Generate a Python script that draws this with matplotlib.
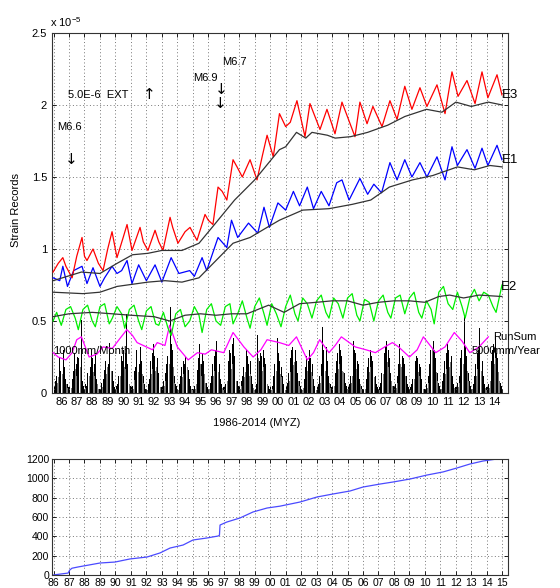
import numpy as np
import matplotlib
matplotlib.use("Agg")
from matplotlib import pyplot as plt
from matplotlib.ticker import FixedLocator, FixedFormatter, NullFormatter

plt.rcParams['font.family'] = ['Liberation Sans', 'DejaVu Sans']
plt.rcParams['font.size'] = 8
plt.rcParams['mathtext.default'] = 'regular'

# ---- data (strain in units of 1e-5, time in decimal years) ----
e3_t = [1985.97, 1986.3, 1986.6, 1986.8, 1987.2, 1987.5, 1987.84, 1988.0, 1988.16, 1988.55,
        1988.9, 1989.2, 1989.5, 1989.78, 1990.1, 1990.5, 1990.75, 1991.07, 1991.59, 1991.8,
        1992.1, 1992.56, 1992.8, 1993.07, 1993.53, 1993.7, 1994.04, 1994.5, 1994.82, 1995.27,
        1995.79, 1996.0, 1996.3, 1996.63, 1996.9, 1997.2, 1997.6, 1997.86, 1998.2, 1998.7,
        1999.15, 1999.5, 1999.8, 2000.2, 2000.6, 2001.0, 2001.3, 2001.73, 2002.25, 2002.57,
        2003.22, 2003.67, 2004.19, 2004.64, 2005.48, 2005.8, 2006.26, 2006.64, 2007.23, 2007.74,
        2008.2, 2008.7, 2009.16, 2009.68, 2010.13, 2010.78, 2011.3, 2011.75, 2012.14, 2012.72,
        2013.24, 2013.69, 2014.07, 2014.66, 2014.98]
e3_v = [0.84, 0.90, 0.94, 0.88, 0.80, 0.95, 1.08, 0.95, 0.92, 1.00,
        0.90, 0.85, 1.00, 1.12, 0.94, 1.08, 1.17, 0.99, 1.15, 1.05,
        0.99, 1.13, 1.05, 0.99, 1.22, 1.15, 1.04, 1.12, 1.15, 1.06,
        1.24, 1.20, 1.17, 1.43, 1.40, 1.34, 1.62, 1.57, 1.50, 1.62,
        1.48, 1.65, 1.79, 1.64, 1.94, 1.85, 1.88, 2.03, 1.78, 2.01,
        1.83, 1.97, 1.80, 2.02, 1.78, 2.02, 1.87, 1.99, 1.85, 2.03,
        1.90, 2.13, 1.97, 2.12, 1.99, 2.14, 1.94, 2.23, 2.06, 2.17,
        2.01, 2.23, 2.05, 2.21, 2.07]
e3_trend_t = [1985.97, 1987.8, 1989.0, 1990.1, 1991.1, 1992.1, 1993.0, 1994.3, 1995.4, 1996.4,
              1997.7, 1999.0, 2000.6, 2001.0, 2001.7, 2002.3, 2002.7, 2003.7, 2004.2, 2005.2,
              2006.3, 2007.6, 2008.7, 2010.1, 2011.1, 2012.0, 2013.0, 2014.1, 2015.0]
e3_trend_v = [0.78, 0.84, 0.83, 0.90, 0.96, 0.97, 0.99, 0.99, 1.04, 1.17,
              1.34, 1.48, 1.69, 1.71, 1.81, 1.77, 1.81, 1.79, 1.77, 1.78,
              1.81, 1.86, 1.92, 1.97, 1.95, 2.02, 1.99, 2.02, 2.00]

e1_t = [1985.97, 1986.4, 1986.6, 1986.9, 1987.3, 1987.84, 1988.16, 1988.55, 1989.0, 1989.3,
        1989.78, 1990.1, 1990.4, 1990.75, 1991.07, 1991.5, 1992.0, 1992.56, 1993.0, 1993.6,
        1994.1, 1994.8, 1995.1, 1995.6, 1995.9, 1996.63, 1997.2, 1997.5, 1997.9, 1998.6,
        1999.2, 1999.6, 1999.95, 2000.5, 2001.0, 2001.5, 2001.9, 2002.4, 2002.8, 2003.3,
        2003.8, 2004.3, 2004.64, 2005.1, 2005.8, 2006.3, 2006.7, 2007.2, 2007.74, 2008.2,
        2008.7, 2009.16, 2009.68, 2010.13, 2010.78, 2011.3, 2011.75, 2012.1, 2012.72, 2013.24,
        2013.69, 2014.07, 2014.66, 2014.98]
e1_v = [0.80, 0.78, 0.88, 0.74, 0.85, 0.88, 0.76, 0.87, 0.74, 0.80,
        0.88, 0.83, 0.85, 0.92, 0.76, 0.89, 0.78, 0.89, 0.77, 0.94,
        0.83, 0.85, 0.81, 0.94, 0.85, 1.08, 1.01, 1.20, 1.08, 1.18,
        1.11, 1.29, 1.15, 1.32, 1.27, 1.40, 1.30, 1.43, 1.28, 1.40,
        1.30, 1.46, 1.48, 1.34, 1.49, 1.38, 1.45, 1.39, 1.60, 1.48,
        1.62, 1.50, 1.60, 1.50, 1.64, 1.48, 1.71, 1.58, 1.69, 1.56,
        1.70, 1.58, 1.72, 1.62]
e1_trend_t = [1985.97, 1987.9, 1989.0, 1990.1, 1992.1, 1993.2, 1994.3, 1995.4, 1996.5, 1997.6,
              1998.7, 1999.8, 2000.6, 2002.1, 2003.8, 2005.3, 2006.5, 2007.7, 2009.2, 2010.5,
              2012.1, 2013.2, 2014.2, 2015.0]
e1_trend_v = [0.70, 0.69, 0.70, 0.74, 0.77, 0.78, 0.77, 0.80, 0.92, 1.04,
              1.08, 1.15, 1.20, 1.27, 1.28, 1.31, 1.34, 1.43, 1.48, 1.51,
              1.57, 1.55, 1.58, 1.57]

e2_t = [1985.97, 1986.2, 1986.5, 1986.8, 1987.1, 1987.4, 1987.6, 1987.9, 1988.2, 1988.5,
        1988.7, 1989.0, 1989.3, 1989.6, 1989.8, 1990.1, 1990.4, 1990.6, 1990.9, 1991.2,
        1991.5, 1991.7, 1992.0, 1992.3, 1992.6, 1992.8, 1993.1, 1993.4, 1993.6, 1993.9,
        1994.2, 1994.5, 1994.8, 1995.1, 1995.4, 1995.6, 1995.9, 1996.2, 1996.5, 1996.8,
        1997.1, 1997.4, 1997.6, 1997.9, 1998.2, 1998.5, 1998.7, 1999.0, 1999.3, 1999.6,
        1999.8, 2000.1, 2000.4, 2000.7, 2001.0, 2001.3, 2001.6, 2001.8, 2002.1, 2002.4,
        2002.7, 2003.0, 2003.3, 2003.6, 2003.8, 2004.1, 2004.4, 2004.7, 2005.0, 2005.3,
        2005.6, 2005.8, 2006.1, 2006.4, 2006.7, 2007.0, 2007.3, 2007.6, 2007.8, 2008.1,
        2008.4, 2008.7, 2009.0, 2009.3, 2009.6, 2009.8, 2010.1, 2010.4, 2010.6, 2010.9,
        2011.2, 2011.5, 2011.8, 2012.1, 2012.4, 2012.6, 2012.9, 2013.2, 2013.5, 2013.8,
        2014.1, 2014.4, 2014.6, 2014.98]
e2_v = [0.50, 0.56, 0.47, 0.58, 0.60, 0.52, 0.44, 0.58, 0.61, 0.50,
        0.46, 0.60, 0.62, 0.48, 0.52, 0.60, 0.55, 0.45, 0.58, 0.61,
        0.50, 0.44, 0.57, 0.60, 0.48, 0.47, 0.56, 0.45, 0.40, 0.55,
        0.58, 0.46, 0.50, 0.60, 0.54, 0.42, 0.58, 0.62, 0.50, 0.47,
        0.60, 0.62, 0.48, 0.55, 0.64, 0.52, 0.45, 0.60, 0.66, 0.55,
        0.47, 0.62, 0.55, 0.46, 0.60, 0.68, 0.55, 0.50, 0.66, 0.62,
        0.52, 0.64, 0.68, 0.56, 0.52, 0.66, 0.62, 0.52, 0.66, 0.69,
        0.54, 0.50, 0.65, 0.63, 0.50, 0.64, 0.68, 0.56, 0.52, 0.66,
        0.68, 0.55, 0.66, 0.70, 0.56, 0.52, 0.64, 0.58, 0.48, 0.70,
        0.74, 0.62, 0.58, 0.70, 0.60, 0.52, 0.66, 0.72, 0.64, 0.70,
        0.68, 0.60, 0.56, 0.75]
e2_trend_t = [1985.97, 1987.0, 1988.5, 1989.8, 1991.0, 1992.5, 1993.5, 1994.5, 1995.5, 1996.5,
              1997.5, 1998.5, 1999.2, 1999.9, 2000.9, 2001.9, 2003.0, 2004.0, 2005.0, 2006.0,
              2007.0, 2008.0, 2009.0, 2010.0, 2010.9, 2011.6, 2012.5, 2013.5, 2014.98]
e2_trend_v = [0.53, 0.55, 0.56, 0.55, 0.54, 0.53, 0.50, 0.54, 0.55, 0.54,
              0.55, 0.55, 0.58, 0.61, 0.56, 0.62, 0.63, 0.64, 0.64, 0.61,
              0.63, 0.64, 0.64, 0.63, 0.67, 0.68, 0.66, 0.68, 0.67]

runsum_t = [1985.97, 1986.3, 1986.8, 1987.2, 1987.5, 1987.8, 1988.3, 1988.8, 1989.2, 1989.8,
            1990.3, 1990.74, 1991.1, 1991.4, 1992.0, 1992.4, 1992.7, 1993.2, 1993.5, 1994.0,
            1994.7, 1995.3, 1995.8, 1996.2, 1997.0, 1997.6, 1998.3, 1998.9, 1999.4, 1999.8,
            2000.6, 2001.2, 2001.7, 2002.4, 2002.8, 2003.2, 2003.8, 2004.2, 2004.6, 2005.5,
            2006.2, 2006.8, 2007.4, 2007.9, 2008.3, 2009.0, 2009.5, 2009.9, 2010.7, 2011.3,
            2011.9, 2012.4, 2012.9, 2013.5, 2014.1]
runsum_v = [0.28, 0.25, 0.23, 0.28, 0.37, 0.39, 0.25, 0.27, 0.32, 0.31,
            0.38, 0.44, 0.40, 0.35, 0.32, 0.30, 0.35, 0.33, 0.47, 0.32,
            0.23, 0.28, 0.27, 0.30, 0.28, 0.42, 0.32, 0.25, 0.30, 0.37,
            0.35, 0.33, 0.39, 0.23, 0.28, 0.37, 0.28, 0.33, 0.39, 0.32,
            0.30, 0.28, 0.32, 0.35, 0.32, 0.25, 0.30, 0.39, 0.28, 0.32,
            0.42, 0.36, 0.28, 0.32, 0.39]

# monthly rainfall, scaled to 1000mm/Month = 0.25e-5 on the strain axis
rain_years = list(range(1986, 2015))
rain = [
    [.05, .08, .12, .18, .25, .15, .22, .30, .18, .10, .06, .04],
    [.04, .06, .10, .15, .28, .20, .25, .24, .30, .51, .08, .05],
    [.06, .05, .14, .20, .18, .30, .24, .20, .28, .10, .05, .03],
    [.03, .07, .10, .16, .22, .30, .20, .35, .25, .15, .08, .04],
    [.05, .06, .12, .20, .26, .22, .30, .28, .55, .20, .10, .05],
    [.04, .05, .15, .18, .30, .24, .20, .32, .22, .12, .06, .03],
    [.03, .06, .10, .22, .28, .34, .26, .30, .24, .14, .07, .04],
    [.05, .08, .14, .20, .26, .34, .60, .34, .30, .12, .06, .05],
    [.04, .06, .12, .18, .22, .20, .25, .30, .16, .10, .05, .03],
    [.03, .05, .10, .16, .24, .34, .20, .28, .22, .12, .07, .04],
    [.05, .07, .12, .20, .26, .30, .36, .24, .20, .10, .06, .04],
    [.04, .06, .14, .22, .30, .28, .34, .38, .26, .14, .08, .05],
    [.05, .08, .12, .18, .24, .30, .26, .20, .22, .12, .06, .04],
    [.03, .06, .40, .22, .28, .26, .30, .24, .20, .10, .05, .03],
    [.04, .05, .12, .20, .26, .38, .28, .22, .18, .12, .06, .04],
    [.05, .07, .14, .24, .30, .32, .36, .30, .22, .14, .08, .05],
    [.03, .06, .10, .18, .26, .22, .30, .24, .20, .10, .05, .03],
    [.04, .06, .12, .20, .46, .30, .26, .32, .22, .12, .06, .04],
    [.05, .08, .14, .22, .28, .34, .30, .26, .24, .14, .07, .05],
    [.04, .06, .12, .20, .36, .30, .28, .22, .20, .10, .05, .03],
    [.03, .05, .10, .18, .24, .30, .26, .22, .18, .12, .06, .04],
    [.04, .07, .14, .22, .28, .32, .36, .30, .24, .14, .08, .05],
    [.05, .06, .12, .20, .34, .30, .26, .24, .20, .12, .06, .04],
    [.04, .06, .10, .16, .22, .26, .24, .20, .18, .10, .05, .03],
    [.03, .06, .12, .20, .30, .52, .36, .30, .24, .14, .07, .05],
    [.05, .08, .14, .22, .28, .34, .30, .36, .26, .12, .06, .04],
    [.04, .07, .12, .24, .30, .34, .54, .32, .26, .14, .08, .05],
    [.05, .06, .12, .20, .28, .30, .45, .26, .22, .12, .06, .04],
    [.04, .06, .14, .22, .30, .34, .40, .28, .24, .14, .07, .05],
]

cum_t = [1985.97, 1986.94, 1987.05, 1987.19, 1987.58, 1989.0, 1989.97, 1990.94, 1992.04, 1992.88,
         1993.53, 1994.37, 1995.01, 1995.92, 1996.63, 1996.72, 1996.76, 1997.2, 1998.05, 1998.89,
         1999.8, 2000.63, 2001.93, 2003.03, 2004.06, 2005.16, 2006.0, 2007.1, 2007.94, 2009.04,
         2010.13, 2011.17, 2012.07, 2012.91, 2013.75, 2014.66]
cum_v = [0, 20, 52, 70, 83, 124, 134, 166, 186, 228,
         279, 310, 362, 383, 403, 410, 517, 548, 590, 652,
         693, 712, 755, 807, 838, 869, 910, 941, 962, 993,
         1034, 1066, 1107, 1148, 1179, 1200]

W, H = 560, 588
XMIN, XMAX = 1985.9, 2015.37

fig = plt.figure(figsize=(W / 100, H / 100), dpi=100)
ax = fig.add_axes([52 / W, 1 - 393 / H, 456 / W, 360 / H])
ax2 = fig.add_axes([52 / W, 1 - 575 / H, 456 / W, 116 / H])


def txt(x, y, s, **kw):
    kw.setdefault('va', 'center')
    fig.text(x / W, 1 - y / H, s, **kw)


grid_kw = dict(color='#777777', linestyle=(0, (1, 2.5)), linewidth=0.7)

# ---- top panel ----
rain_x = []
rain_h = []
for i, yr in enumerate(rain_years):
    for m in range(12):
        rain_x.append(yr + (m + 0.5) / 12)
        rain_h.append(rain[i][m])
ax.bar(rain_x, rain_h, width=0.055, color='black', linewidth=0, zorder=1)
ax.bar(np.array(rain_x) + 0.035, np.array(rain_h) * 0.6, width=0.03, color='#777777',
       linewidth=0, zorder=1)

ax.plot(runsum_t, runsum_v, color='#ff00ff', lw=0.9, zorder=3)
ax.plot(e2_t, e2_v, color='#00ee00', lw=0.9, zorder=3)
ax.plot(e2_trend_t, e2_trend_v, color='#333333', lw=0.9, zorder=4)
ax.plot(e1_t, e1_v, color='#0000ff', lw=0.9, zorder=3)
ax.plot(e1_trend_t, e1_trend_v, color='#333333', lw=0.9, zorder=4)
ax.plot(e3_t, e3_v, color='#ff0000', lw=0.9, zorder=3)
ax.plot(e3_trend_t, e3_trend_v, color='#333333', lw=0.9, zorder=4)

ax.set_xlim(XMIN, XMAX)
ax.set_ylim(0, 2.5)
ax.xaxis.set_major_locator(FixedLocator(range(1986, 2016)))
ax.xaxis.set_major_formatter(NullFormatter())
ax.xaxis.set_minor_locator(FixedLocator([y + 0.5 for y in range(1986, 2015)]))
ax.xaxis.set_minor_formatter(FixedFormatter(['%02d' % (y % 100) for y in range(1986, 2015)]))
ax.set_yticks([0, 0.5, 1, 1.5, 2, 2.5])
ax.set_yticklabels(['0', '0.5', '1', '1.5', '2', '2.5'])
ax.tick_params(which='major', direction='in', top=True, right=True, length=3, width=0.6,
               labelsize=8)
ax.tick_params(which='minor', length=0, labelsize=8, pad=3)
ax.grid(True, which='major', **grid_kw)
for s in ax.spines.values():
    s.set_linewidth(0.8)
    s.set_color('#333333')

arrow_font = dict(family='DejaVu Sans', fontsize=11, ha='center')
txt(50, 22, 'x 10$^{-5}$', fontsize=8)
txt(16, 210, 'Strain Records', rotation=90, ha='center', fontsize=8)
txt(257, 423, '1986-2014 (MYZ)', ha='center', fontsize=8)
txt(68, 95, '5.0E-6  EXT', fontsize=8)
txt(149, 94, '\u2191', **arrow_font)
txt(57, 127, 'M6.6', fontsize=8)
txt(71, 159, '\u2193', **arrow_font)
txt(193, 78, 'M6.9', fontsize=8)
txt(222, 62, 'M6.7', fontsize=8)
txt(221, 89, '\u2193', **arrow_font)
txt(220, 103, '\u2193', **arrow_font)
txt(502, 95, 'E3', fontsize=9.5)
txt(502, 160, 'E1', fontsize=9.5)
txt(501, 287, 'E2', fontsize=9.5)
txt(493, 337, 'RunSum', fontsize=8)
txt(472, 351, '5000mm/Year', fontsize=8)
txt(53, 351, '1000mm/Month', fontsize=8)

# ---- bottom panel ----
ax2.plot(cum_t, cum_v, color='#4a4aff', lw=0.9)
ax2.set_xlim(XMIN, XMAX)
ax2.set_ylim(0, 1200)
ax2.set_xticks(range(1986, 2016))
ax2.set_xticklabels(['%02d' % (y % 100) for y in range(1986, 2016)])
ax2.set_yticks(range(0, 1201, 200))
ax2.tick_params(direction='in', top=True, right=True, length=3, width=0.6, labelsize=7.5,
                pad=2)
ax2.grid(True, **grid_kw)
for s in ax2.spines.values():
    s.set_linewidth(0.8)
    s.set_color('#333333')

fig.savefig('out.png', dpi=100)
